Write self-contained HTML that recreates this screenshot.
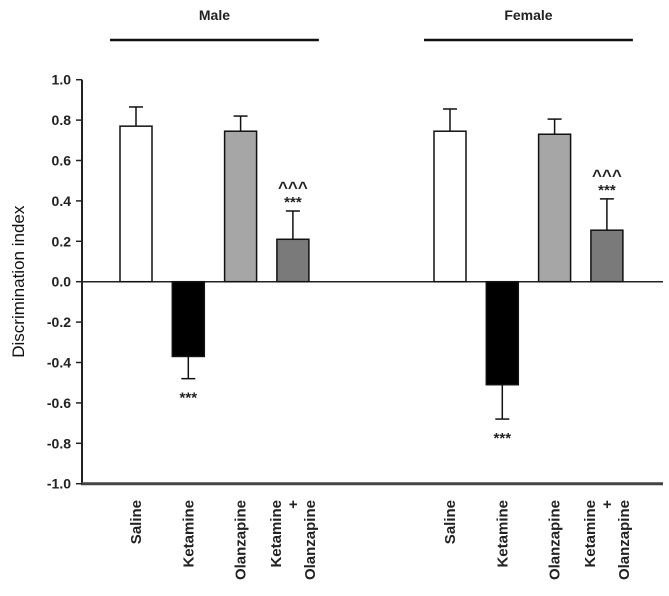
<!DOCTYPE html>
<html><head><meta charset="utf-8"><style>
body{margin:0;background:#fff}
svg{display:block;font-family:"Liberation Sans",Arial,sans-serif}
</style></head><body>
<svg id="chart" width="669" height="596">
<g id="g"></g>
</svg>
<script>
const groups=["Male","Female"];
const categories=["Saline","Ketamine","Olanzapine","Ketamine + Olanzapine"];
const maleValues=[0.77,-0.37,0.745,0.21];
const maleErrors=[0.095,0.11,0.075,0.14];
const femaleValues=[0.745,-0.51,0.73,0.255];
const femaleErrors=[0.11,0.17,0.075,0.155];
const maleSig=["","***","","^^^\n***"];
const femaleSig=["","***","","^^^\n***"];
const yTicks=[1.0,0.8,0.6,0.4,0.2,0.0,-0.2,-0.4,-0.6,-0.8,-1.0];
const fills=["#ffffff","#000000","#a6a6a6","#7a7a7a"];

const NS="http://www.w3.org/2000/svg";
const g=document.getElementById('g');
const y0=281.7, k=202;
const y=v=>y0-v*k;
const groupStart=[120,434], step=52.3, bw=32;
function el(t,a,txt){const e=document.createElementNS(NS,t);for(const n in a)e.setAttribute(n,a[n]);if(txt!==undefined)e.textContent=txt;g.appendChild(e);return e;}

let ax=el('line',{x1:82,y1:y(1),x2:82,y2:y(-1),stroke:'#222','stroke-width':2});


let xb=el('line',{x1:81,y1:y(-1),x2:663,y2:y(-1),stroke:'#444','stroke-width':3});


let zl=el('line',{x1:82,y1:y0,x2:663,y2:y0,stroke:'#222','stroke-width':1.5});


yTicks.forEach(t=>{
  let tl=el('line',{x1:76,y1:y(t),x2:82,y2:y(t),stroke:'#222','stroke-width':1.5});
  
  
  let tx=el('text',{x:71,y:y(t)+5,'text-anchor':'end','font-size':14,'font-weight':'bold',fill:'#222'},t.toFixed(1));
  
  
});
let yt=el('text',{x:24,y:y0,'text-anchor':'middle','font-size':17,fill:'#111',transform:`rotate(-90 24 ${y0})`},'Discrimination index');



const allVals=[maleValues,femaleValues], allErr=[maleErrors,femaleErrors], allSig=[maleSig,femaleSig];
groups.forEach((gn,gi)=>{
  const gx=groupStart[gi];
  const lx1=gx-10, lx2=gx+3*step+bw+10;
  let hl=el('line',{x1:lx1,y1:40,x2:lx2,y2:40,stroke:'#111','stroke-width':2.5});
  
  
  let ht=el('text',{x:(lx1+lx2)/2,y:20,'text-anchor':'middle','font-size':14,'font-weight':'bold',fill:'#222'},gn);
  
  
  categories.forEach((c,i)=>{
    const v=allVals[gi][i], e=allErr[gi][i];
    const x=gx+i*step, top=Math.min(y(v),y0), h=Math.abs(y(v)-y0);
    const tip=v>=0?y(v+e):y(v-e), base=y(v);
    let eb=el('line',{x1:x+bw/2,y1:base,x2:x+bw/2,y2:tip,stroke:'#111','stroke-width':1.5});
    
    
    let ec=el('line',{x1:x+bw/2-7,y1:tip,x2:x+bw/2+7,y2:tip,stroke:'#111','stroke-width':1.5});
    
    
    let r=el('rect',{x:x,y:top,width:bw,height:h,fill:fills[i],stroke:'#111','stroke-width':1.5});
    
    
    const s=allSig[gi][i];
    if(s){
      const lines=s.split('\n');
      lines.forEach((ln,li)=>{
        let sy;
        if(v>=0) sy=tip-8-(lines.length-1-li)*14;
        else sy=tip+20+li*14;
        if(ln==='***') sy+=4; else sy+=4;
        let st=el('text',{x:x+bw/2,y:sy,'text-anchor':'middle','font-size':ln==='***'?15:17,'font-weight':'bold',fill:'#222'},ln);
        
        
      });
    }
    const cx=x+bw/2, ly=500;
    const parts=c.split(' + ');
    if(parts.length===1){
      let lt=el('text',{x:cx+5,y:ly,'text-anchor':'end','font-size':15,'font-weight':'bold',fill:'#222',transform:`rotate(-90 ${cx+5} ${ly})`},c);
      
      
    } else {
      [[parts[0],-12],['+',5],[parts[1],22]].forEach(([t,dx])=>{
        let lt=el('text',{x:cx+dx,y:ly,'text-anchor':'end','font-size':15,'font-weight':'bold',fill:'#222',transform:`rotate(-90 ${cx+dx} ${ly})`},t);
        
        
      });
    }
  });
});
</script>
</body></html>
